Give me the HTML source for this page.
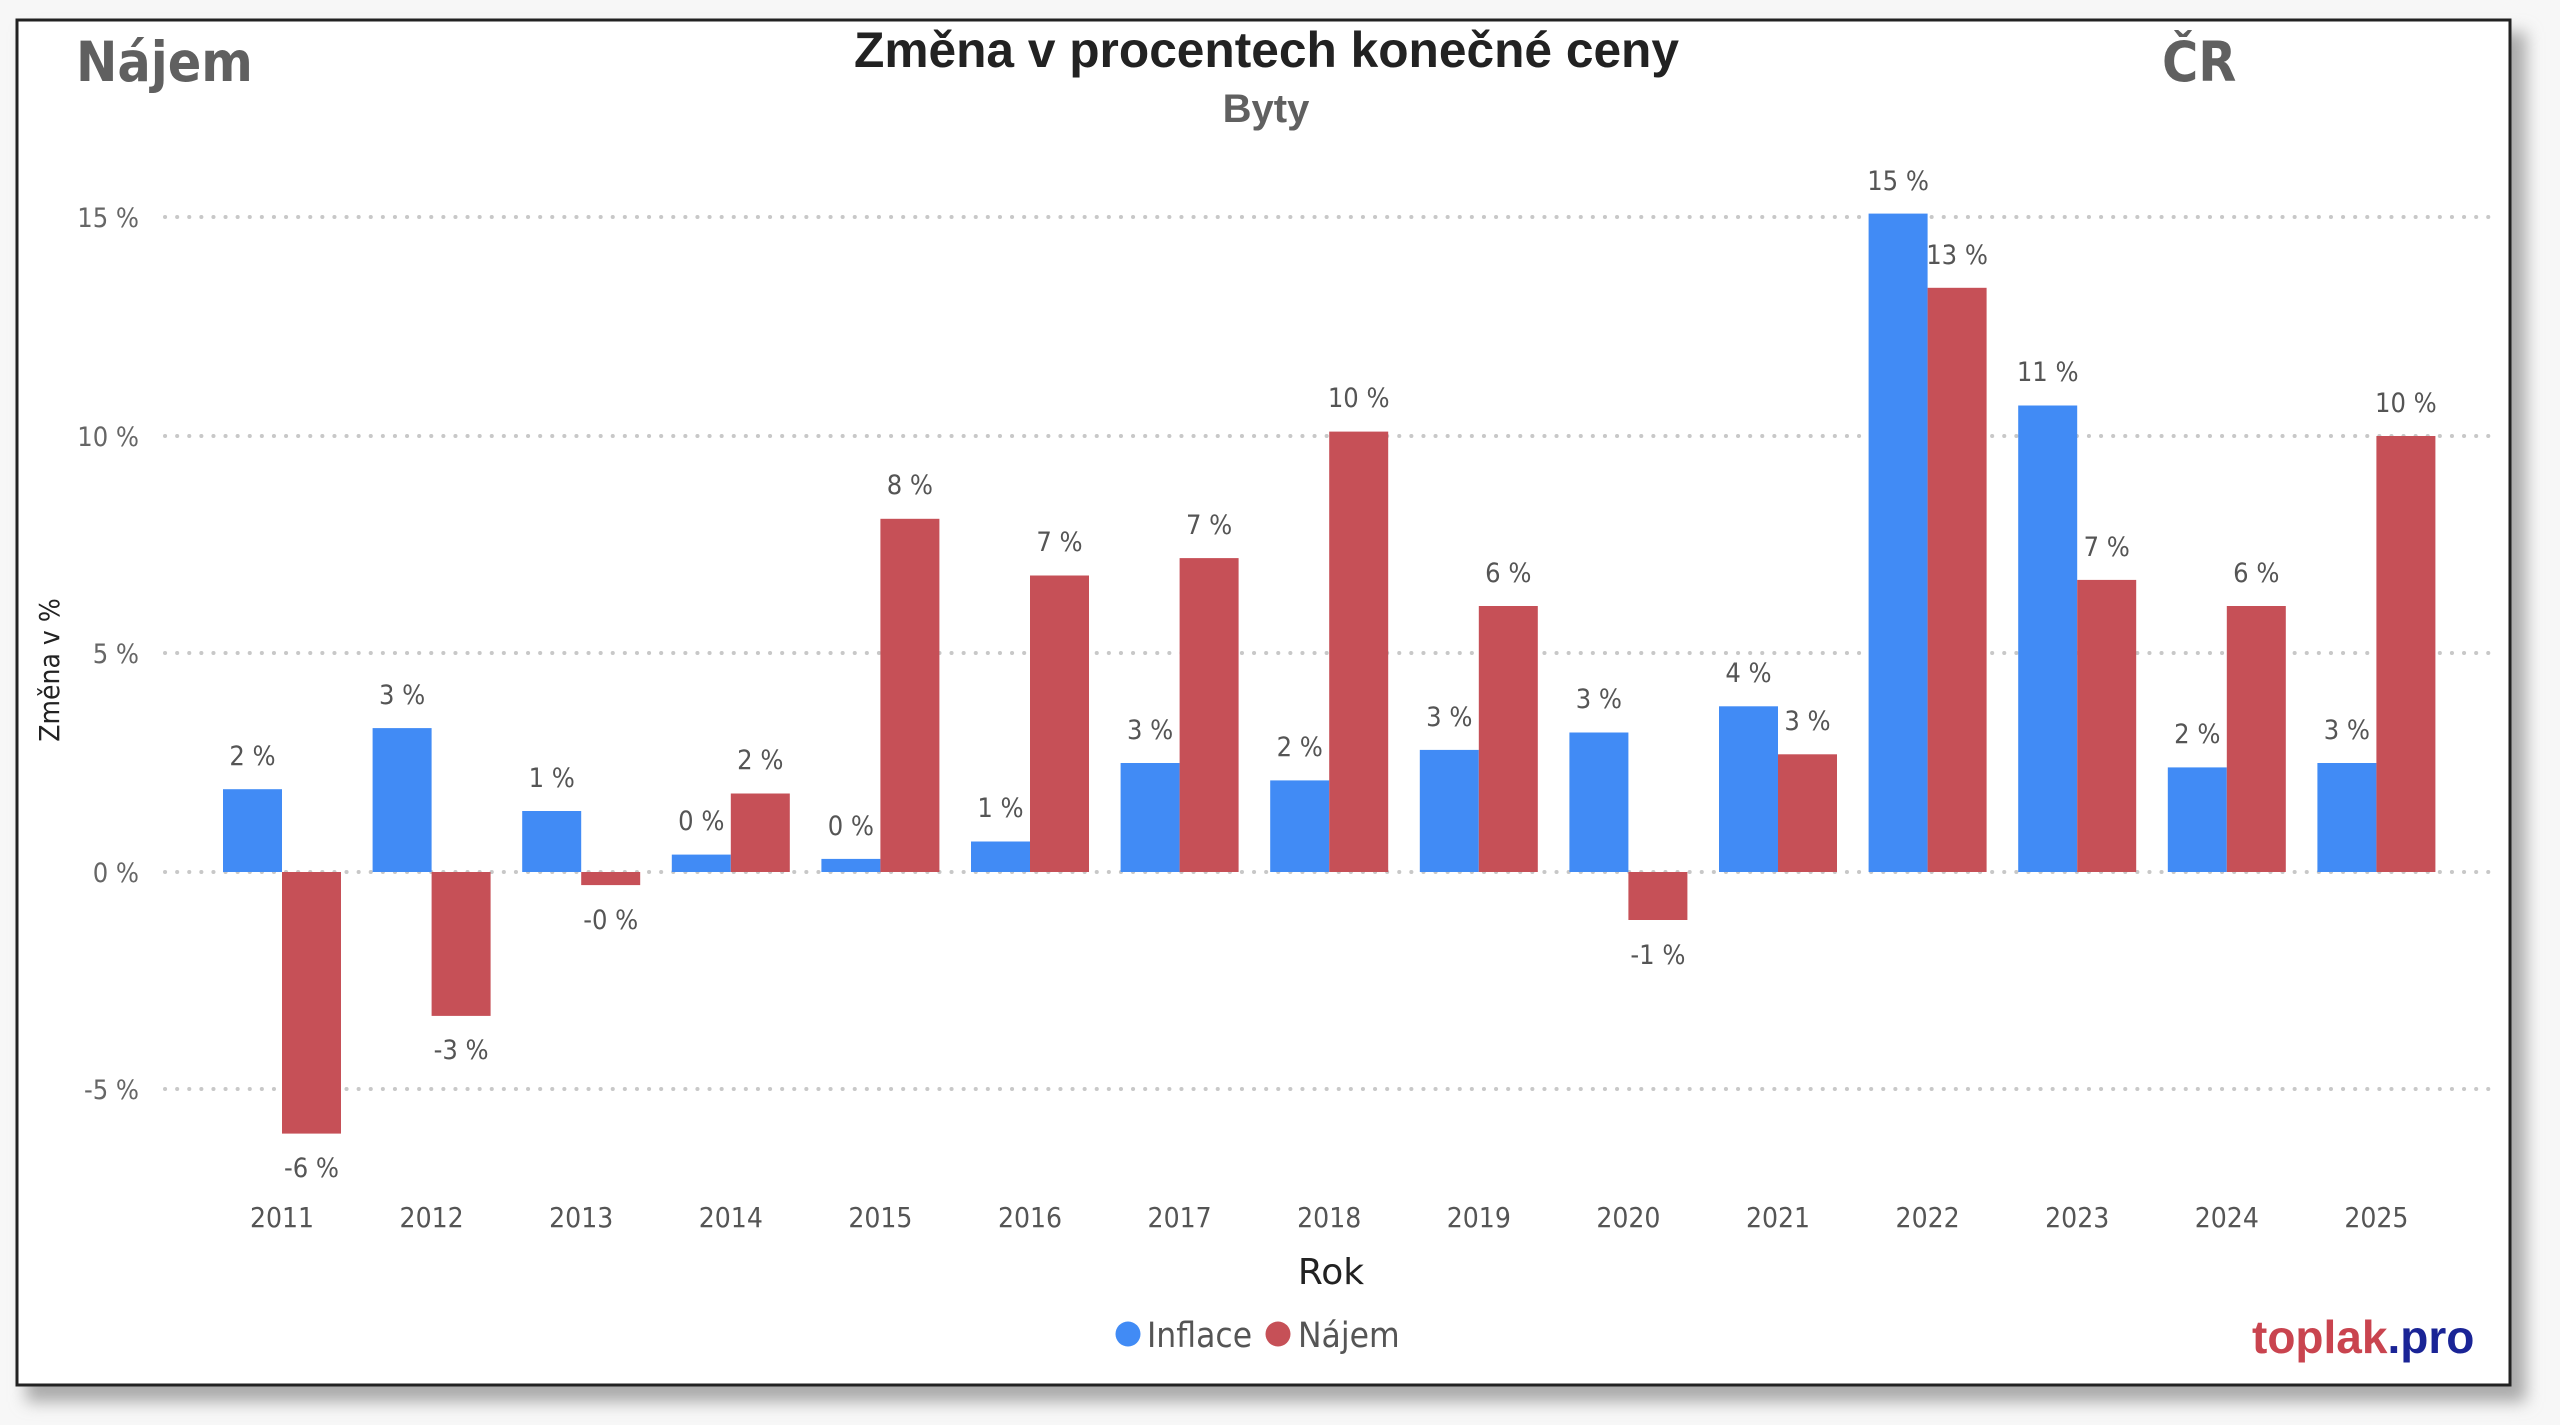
<!DOCTYPE html>
<html><head><meta charset="utf-8"><style>
html,body{margin:0;padding:0;background:#fff;width:2560px;height:1425px;overflow:hidden}
svg{display:block}
</style></head><body>
<svg width="2560" height="1425" viewBox="0 0 2560 1425" xmlns="http://www.w3.org/2000/svg">
<defs>
<filter id="sh" x="-5%" y="-5%" width="110%" height="115%"><feGaussianBlur stdDeviation="8"/></filter>
</defs>
<rect x="0" y="0" width="2560" height="1425" fill="#f7f7f7"/>
<rect x="26" y="32" width="2500" height="1370" fill="#aaa" filter="url(#sh)"/>
<rect x="17" y="20" width="2493" height="1365" fill="#fff" stroke="#222" stroke-width="3"/>

<g font-family="'DejaVu Sans Condensed','DejaVu Sans',sans-serif">
<text x="76" y="81" font-size="55" font-weight="bold" fill="#606060">Nájem</text>
<text x="2162" y="81" font-size="55" font-weight="bold" fill="#606060">ČR</text>
</g>
<text x="854" y="67" font-size="50" font-weight="bold" fill="#222" font-family="'Liberation Sans',sans-serif" textLength="825" lengthAdjust="spacingAndGlyphs">Změna v procentech konečné ceny</text>
<text x="1266" y="122" font-size="40" font-weight="bold" fill="#606060" text-anchor="middle" font-family="'Liberation Sans',sans-serif">Byty</text>

<g stroke="#c8c8c8" stroke-width="4" stroke-dasharray="0.1 12" stroke-linecap="round">
<line x1="165" y1="217" x2="2490" y2="217"/>
<line x1="165" y1="436" x2="2490" y2="436"/>
<line x1="165" y1="653" x2="2490" y2="653"/>
<line x1="165" y1="872" x2="2490" y2="872"/>
<line x1="165" y1="1089" x2="2490" y2="1089"/>
</g>
<g font-family="'DejaVu Sans Condensed','Liberation Sans',sans-serif" font-size="27" fill="#666" text-anchor="end">
<text x="139" y="227">15 %</text>
<text x="139" y="446">10 %</text>
<text x="139" y="663">5 %</text>
<text x="139" y="882">0 %</text>
<text x="139" y="1099">-5 %</text>
</g>
<text transform="translate(59,670) rotate(-90)" text-anchor="middle" font-family="'DejaVu Sans Condensed','Liberation Sans',sans-serif" font-size="28" fill="#222">Změna v %</text>

<g fill="#418bf5">
<rect x="223" y="789.2" width="59" height="82.8"/>
<rect x="372.6" y="728.1" width="59" height="143.9"/>
<rect x="522.2" y="811" width="59" height="61"/>
<rect x="671.8" y="854.6" width="59" height="17.4"/>
<rect x="821.4" y="858.9" width="59" height="13.1"/>
<rect x="971" y="841.5" width="59" height="30.5"/>
<rect x="1120.6" y="763" width="59" height="109"/>
<rect x="1270.2" y="780.4" width="59" height="91.6"/>
<rect x="1419.8" y="749.9" width="59" height="122.1"/>
<rect x="1569.4" y="732.5" width="59" height="139.5"/>
<rect x="1719" y="706.3" width="59" height="165.7"/>
<rect x="1868.6" y="213.6" width="59" height="658.4"/>
<rect x="2018.2" y="405.5" width="59" height="466.5"/>
<rect x="2167.8" y="767.4" width="59" height="104.6"/>
<rect x="2317.4" y="763" width="59" height="109"/>
</g>
<g fill="#c65057">
<rect x="282" y="872" width="59" height="261.6"/>
<rect x="431.6" y="872" width="59" height="143.9"/>
<rect x="581.2" y="872" width="59" height="13.1"/>
<rect x="730.8" y="793.5" width="59" height="78.5"/>
<rect x="880.4" y="518.8" width="59" height="353.2"/>
<rect x="1030" y="575.5" width="59" height="296.5"/>
<rect x="1179.6" y="558.1" width="59" height="313.9"/>
<rect x="1329.2" y="431.6" width="59" height="440.4"/>
<rect x="1478.8" y="606" width="59" height="266"/>
<rect x="1628.4" y="872" width="59" height="48"/>
<rect x="1778" y="754.3" width="59" height="117.7"/>
<rect x="1927.6" y="287.8" width="59" height="584.2"/>
<rect x="2077.2" y="579.9" width="59" height="292.1"/>
<rect x="2226.8" y="606" width="59" height="266"/>
<rect x="2376.4" y="436" width="59" height="436"/>
</g>

<g font-family="'DejaVu Sans Condensed','Liberation Sans',sans-serif" font-size="27" fill="#555" text-anchor="middle">
<text x="252.5" y="765">2 %</text>
<text x="311.5" y="1177">-6 %</text>
<text x="402.1" y="704">3 %</text>
<text x="461.1" y="1059">-3 %</text>
<text x="551.7" y="787">1 %</text>
<text x="610.7" y="929">-0 %</text>
<text x="701.3" y="830">0 %</text>
<text x="760.3" y="769">2 %</text>
<text x="850.9" y="835">0 %</text>
<text x="909.9" y="494">8 %</text>
<text x="1000.5" y="817">1 %</text>
<text x="1059.5" y="551">7 %</text>
<text x="1150.1" y="739">3 %</text>
<text x="1209.1" y="534">7 %</text>
<text x="1299.7" y="756">2 %</text>
<text x="1358.7" y="407">10 %</text>
<text x="1449.3" y="726">3 %</text>
<text x="1508.3" y="582">6 %</text>
<text x="1598.9" y="708">3 %</text>
<text x="1657.9" y="964">-1 %</text>
<text x="1748.5" y="682">4 %</text>
<text x="1807.5" y="730">3 %</text>
<text x="1898.1" y="190">15 %</text>
<text x="1957.1" y="264">13 %</text>
<text x="2047.7" y="381">11 %</text>
<text x="2106.7" y="556">7 %</text>
<text x="2197.3" y="743">2 %</text>
<text x="2256.3" y="582">6 %</text>
<text x="2346.9" y="739">3 %</text>
<text x="2405.9" y="412">10 %</text>
</g>

<g font-family="'DejaVu Sans Condensed','Liberation Sans',sans-serif" font-size="28" fill="#555" text-anchor="middle">
<text x="282" y="1227">2011</text>
<text x="431.6" y="1227">2012</text>
<text x="581.2" y="1227">2013</text>
<text x="730.8" y="1227">2014</text>
<text x="880.4" y="1227">2015</text>
<text x="1030" y="1227">2016</text>
<text x="1179.6" y="1227">2017</text>
<text x="1329.2" y="1227">2018</text>
<text x="1478.8" y="1227">2019</text>
<text x="1628.4" y="1227">2020</text>
<text x="1778" y="1227">2021</text>
<text x="1927.6" y="1227">2022</text>
<text x="2077.2" y="1227">2023</text>
<text x="2226.8" y="1227">2024</text>
<text x="2376.4" y="1227">2025</text>
</g>
<text x="1331" y="1284" text-anchor="middle" font-family="'DejaVu Sans','Liberation Sans',sans-serif" font-size="36" fill="#222">Rok</text>

<circle cx="1128" cy="1334" r="12.5" fill="#418bf5"/>
<text x="1147" y="1347" font-family="'DejaVu Sans Condensed','Liberation Sans',sans-serif" font-size="35" fill="#555">Inflace</text>
<circle cx="1278" cy="1334" r="12.5" fill="#c65057"/>
<text x="1298" y="1347" font-family="'DejaVu Sans Condensed','Liberation Sans',sans-serif" font-size="35" fill="#555">Nájem</text>

<text x="2252" y="1353" font-family="'Liberation Sans',sans-serif" font-size="46" font-weight="bold"><tspan fill="#c9444f">toplak</tspan><tspan fill="#1a2496">.pro</tspan></text>
</svg>
</body></html>
